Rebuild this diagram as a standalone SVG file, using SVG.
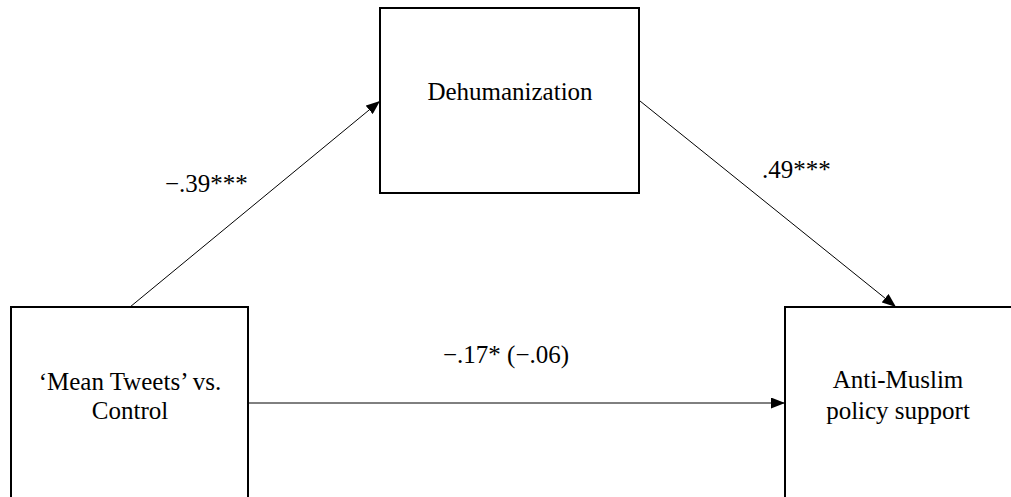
<svg xmlns="http://www.w3.org/2000/svg" width="1011" height="497" viewBox="0 0 1011 497">
<style>
.box{fill:#fff;stroke:#000;stroke-width:2}
.t{font-family:"Liberation Serif","Times New Roman",serif;font-size:25px;fill:#000;text-anchor:middle}
.l{font-family:"Liberation Serif","Times New Roman",serif;font-size:25px;fill:#000}
.c{stroke:#000;stroke-width:1;fill:none;marker-end:url(#ah)}
</style>
<defs>
<marker id="ah" viewBox="0 0 14 11" refX="14" refY="5.5" markerWidth="14" markerHeight="11" markerUnits="userSpaceOnUse" orient="auto">
<path d="M0,0 L14,5.5 L0,11 Z" fill="#000"/>
</marker>
</defs>
<rect width="1011" height="497" fill="#fff"/>
<g id="n-dehum">
<rect class="box" x="380" y="8" width="259" height="185"/>
<text class="t" x="510" y="100">Dehumanization</text>
</g>
<g id="n-mean">
<rect class="box" x="11" y="307" width="237" height="200"/>
<text class="t" x="130" y="390">‘Mean Tweets’ vs.</text>
<text class="t" x="130" y="419">Control</text>
</g>
<g id="n-anti">
<rect class="box" x="785" y="307" width="240" height="200"/>
<text class="t" x="898" y="388">Anti-Muslim</text>
<text class="t" x="898" y="419">policy support</text>
</g>
<g id="connectors">
<line class="c" x1="130" y1="307" x2="380" y2="101"/>
<line class="c" x1="640" y1="101" x2="896" y2="307"/>
<line class="c" x1="248" y1="403" x2="785" y2="403"/>
</g>
<g id="labels">
<text class="l" x="165" y="192">−.39***</text>
<text class="l" x="762" y="178">.49***</text>
<text class="l" x="443" y="363">−.17* (−.06)</text>
</g>
</svg>
